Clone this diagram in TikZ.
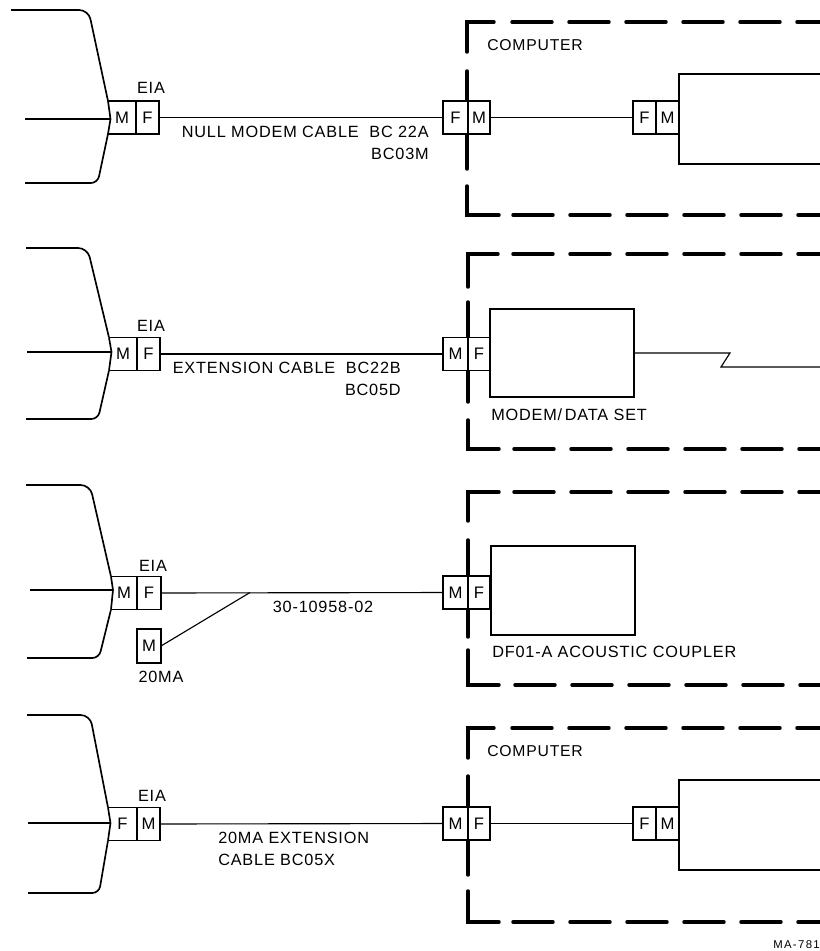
\documentclass[tikz,border=0pt]{standalone}
\usepackage{fontspec}
\setmainfont[LetterSpace=5]{Liberation Sans}
\usepackage{tikz}
\usetikzlibrary{positioning}
\tikzset{
  cell/.style={draw, fill=white, line width=1.2pt, minimum height=24.75pt, minimum width=#1*0.75pt, inner sep=0pt, outer sep=0pt, font=\fontsize{12.5}{15}\selectfont},
  plug/.style={minimum height=24.75pt, minimum width=#1*0.75pt, inner sep=0pt, outer sep=0pt, font=\fontsize{12.5}{15}\selectfont},
  unit/.style={draw, fill=white, line width=1.3pt, inner sep=0pt, outer sep=0pt},
  wire/.style={line width=0.85pt},
  hood/.style={line width=1.25pt},
  frame/.style={line width=2.6pt, line cap=round},
  dashes/.style={frame, dash pattern=on 30pt off 12.75pt},
  lab/.style={inner sep=0pt}
}
\begin{document}
\begin{tikzpicture}[x=0.75pt, y=-0.75pt, every node/.style={font=\fontsize{12.2}{16.5}\selectfont}]
\useasboundingbox (0,0) rectangle (820,951);

% first row
\draw[frame] (467,52) -- (467,22) -- (494,22);
\draw[dashes] (512,22) -- (820,22);
\draw[frame] (467,71) -- (467,169);
\draw[frame] (467,186) -- (467,215) -- (499,215);
\draw[dashes] (513,215) -- (820,215);
\node[plug=28] (ma) at (122,117.5) {M};
\node[cell=23] (fa) at (147.5,117.5) {F};
\coordinate (tipa) at (110.5,119);
\coordinate (ina) at (25,119);
\draw[hood, rounded corners=7pt] (11,10) -- (88.5,10) -- (ma.north west);
\draw[hood, rounded corners=5pt] (25,183) -- (97.6,183) -- (ma.south west);
\draw[hood] (ma.north west) -- (tipa) -- (ma.south west);
\draw[hood] (ma.north west) -- (fa.north west) (ma.south west) -- (fa.south west);
\draw[wire] (ina) -- (tipa);
\node[lab] (eiaa) at (151,88) {EIA};
\node[cell=25] (fb) at (455.5,117.5) {F};
\node[cell=22] (mb) at (479,117.5) {M};
\node[cell=23] (fc) at (644.5,117.5) {F};
\node[cell=23] (mc) at (667.5,117.5) {M};
\draw[wire] (fa) -- (fb);
\draw[wire] (mb) -- (fc);
\draw[unit] (820,74) -- (679,74) -- (679,164) -- (820,164);
\node[lab, align=right, anchor=north east] (cablea) at (429,126) {NULL MODEM CABLE\ \ BC 22A\\BC03M};
\node[lab, anchor=west, font=\fontsize{11.8}{14}\selectfont] (compa) at (487,45) {COMPUTER};

% second row
\draw[frame] (468,287) -- (468,254) -- (498,254);
\draw[dashes] (513,254) -- (820,254);
\draw[frame] (468,302) -- (468,402);
\draw[frame] (468,420) -- (468,449) -- (499,449);
\draw[dashes] (514,449) -- (820,449);
\node[plug=28] (md) at (123,354) {M};
\node[cell=23] (fd) at (148.5,354) {F};
\coordinate (tipd) at (111.5,352);
\coordinate (ind) at (27,352);
\draw[hood, rounded corners=7pt] (26,248) -- (87.5,248) -- (md.north west);
\draw[hood, rounded corners=5pt] (26,419) -- (98,419) -- (md.south west);
\draw[hood] (md.north west) -- (tipd) -- (md.south west);
\draw[hood] (md.north west) -- (fd.north west) (md.south west) -- (fd.south west);
\draw[wire] (ind) -- (tipd);
\node[lab] (eiad) at (151,326) {EIA};
\node[cell=25] (me) at (455.5,354) {M};
\node[cell=22] (fe) at (479,354) {F};
\draw[wire] (fd) -- (me);
\node[unit, minimum width=108pt, minimum height=66pt] (modem) at (562,353) {};
\coordinate (zend) at (820,367);
\draw[wire] (modem.east) -- (730,353) -- (721,367) -- (zend);
\node[lab, align=right, anchor=north east] (cabled) at (401,362) {EXTENSION CABLE\ \ BC22B\\BC05D};
\node[lab, anchor=west] (modemlab) at (491,415) {MODEM/\kern2pt DATA SET};

% third row
\draw[frame] (468,521) -- (468,492) -- (499,492);
\draw[dashes] (514,492) -- (820,492);
\draw[frame] (468,540) -- (468,637);
\draw[frame] (468,650) -- (468,685) -- (499,685);
\draw[dashes] (515,685) -- (820,685);
\node[plug=26] (mf) at (124,593) {M};
\node[cell=24] (ff) at (149,593) {F};
\coordinate (tipf) at (113,590);
\coordinate (inf) at (30,590);
\draw[hood, rounded corners=7pt] (26,485) -- (90,485) -- (mf.north west);
\draw[hood, rounded corners=5pt] (27,658) -- (99,658) -- (mf.south west);
\draw[hood] (mf.north west) -- (tipf) -- (mf.south west);
\draw[hood] (mf.north west) -- (ff.north west) (mf.south west) -- (ff.south west);
\draw[wire] (inf) -- (tipf);
\node[lab] (eiaf) at (153,566) {EIA};
\node[cell=25] (mg) at (455.5,592.5) {M};
\node[cell=22] (fg) at (479,592.5) {F};
\draw[wire] (ff) -- (mg);
\coordinate (split) at (250,592.5);
\node[cell=24, minimum height=25.5pt, line width=1.4pt] (mh) at (149,646) {M};
\draw[wire] (split) -- (mh.east);
\node[lab] (mhlab) at (161,677) {20MA};
\node[unit, minimum width=108pt, minimum height=66.75pt] (coupler) at (563,590.5) {};
\node[lab] (cablef) at (323,607) {30-10958-02};
\node[lab, anchor=west] (couplab) at (492,652) {DF01-A ACOUSTIC COUPLER};

% fourth row
\draw[frame] (468,758) -- (468,728) -- (494,728);
\draw[dashes] (512,728) -- (820,728);
\draw[frame] (468,776) -- (468,875);
\draw[frame] (468,891) -- (468,922) -- (499,922);
\draw[dashes] (513,922) -- (820,922);
\node[plug=29] (fj) at (122.5,824) {F};
\node[cell=23] (mj) at (148.5,824) {M};
\coordinate (tipj) at (110.5,823);
\coordinate (inj) at (28,823);
\draw[hood, rounded corners=7pt] (27,715) -- (90,715) -- (fj.north west);
\draw[hood, rounded corners=5pt] (28,893) -- (99,893) -- (fj.south west);
\draw[hood] (fj.north west) -- (tipj) -- (fj.south west);
\draw[hood] (fj.north west) -- (mj.north west) (fj.south west) -- (mj.south west);
\draw[wire] (inj) -- (tipj);
\node[lab] (eiaj) at (152,796) {EIA};
\node[cell=25] (mk) at (455.5,823.5) {M};
\node[cell=22] (fk) at (479,823.5) {F};
\node[cell=23] (fl) at (644.5,823.5) {F};
\node[cell=23] (ml) at (667.5,823.5) {M};
\draw[wire] (mj) -- (mk);
\draw[wire] (fk) -- (fl);
\draw[unit] (820,780) -- (679,780) -- (679,870) -- (820,870);
\node[lab, align=left, anchor=north west] (cablej) at (218,832) {20MA EXTENSION\\CABLE BC05X};
\node[lab, anchor=west, font=\fontsize{11.8}{14}\selectfont] (compj) at (487,751) {COMPUTER};
\node[lab, anchor=east, font=\fontsize{8.5}{10}\selectfont\addfontfeature{LetterSpace=12}] (refno) at (820,945) {MA-781};
\end{tikzpicture}
\end{document}
